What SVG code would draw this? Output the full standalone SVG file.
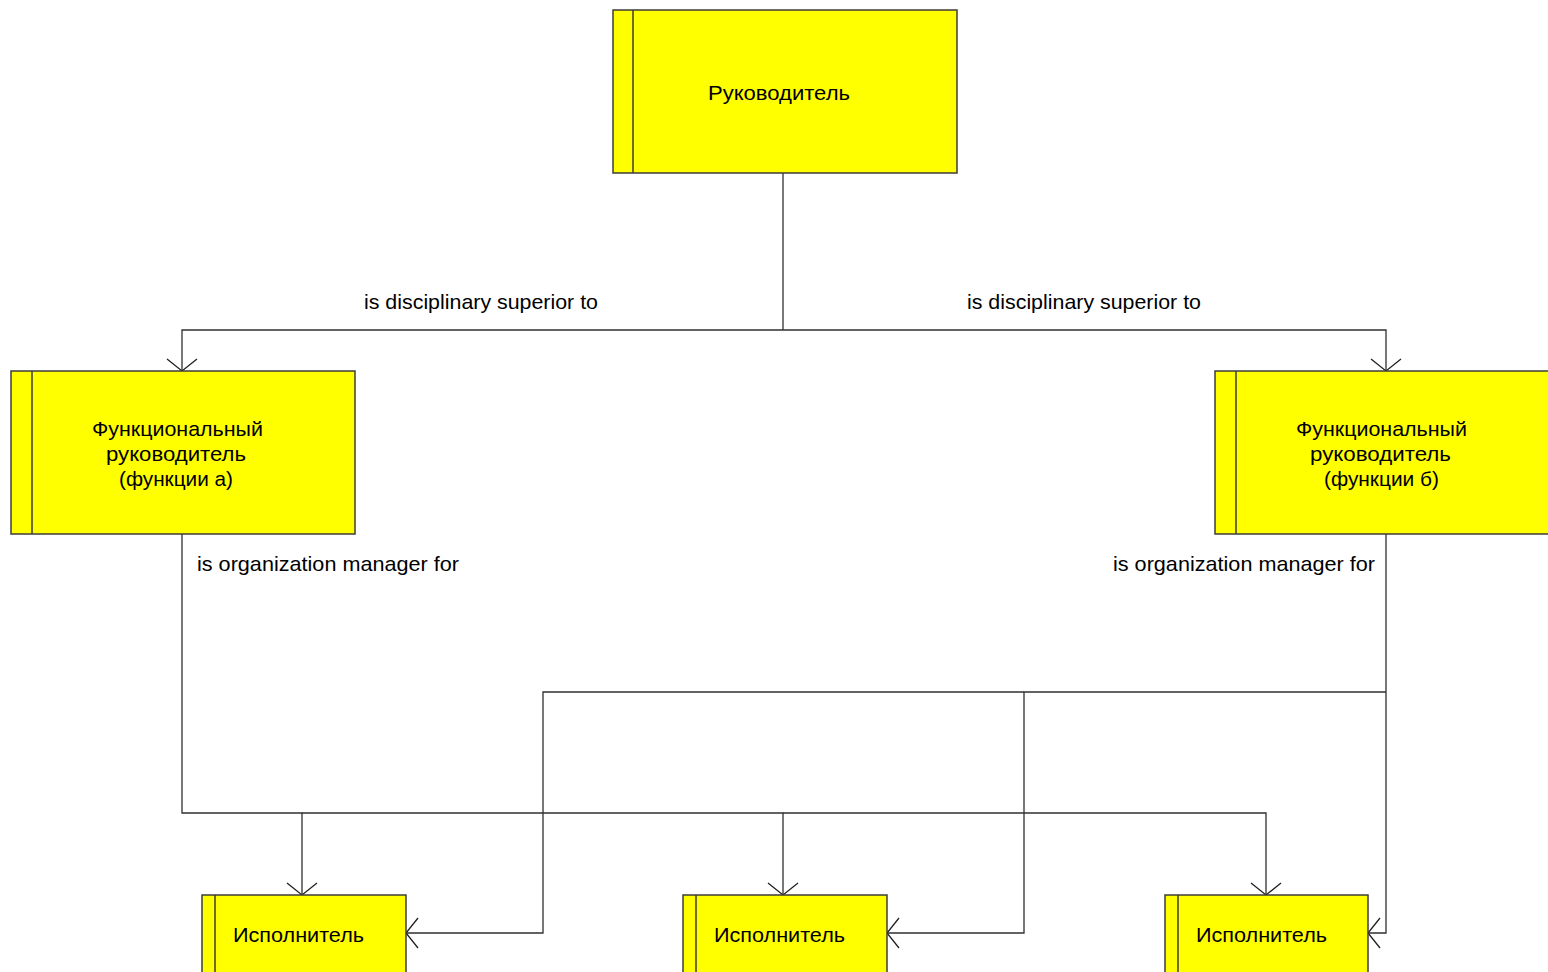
<svg xmlns="http://www.w3.org/2000/svg" width="1548" height="972" viewBox="0 0 1548 972">
<style>
.box{fill:#ffff00;stroke:#3c3c3c;stroke-width:1.5}
.bar{stroke:#3c3c3c;stroke-width:1.5}
.t{font-family:"Liberation Sans",Arial,sans-serif;font-size:21px;fill:#000}
.c{fill:none;stroke:#303030;stroke-width:1.3}
</style>
<defs>
<marker id="arr" markerUnits="userSpaceOnUse" markerWidth="40" markerHeight="40" refX="0" refY="0" viewBox="-20 -20 40 40" orient="auto" overflow="visible">
<path d="M-12,-15 L0,0 L-12,15" fill="none" stroke="#202020" stroke-width="1.3"/>
</marker>
</defs>
<rect width="1548" height="972" fill="#fff"/>
<g id="connectors">
<path class="c" d="M783,173 V330"/>
<path class="c" d="M783,330 H182 V371" marker-end="url(#arr)"/>
<path class="c" d="M783,330 H1386 V371" marker-end="url(#arr)"/>
<path class="c" d="M182,534 V813 H302 V895" marker-end="url(#arr)"/>
<path class="c" d="M302,813 H783 V895" marker-end="url(#arr)"/>
<path class="c" d="M783,813 H1266 V895" marker-end="url(#arr)"/>
<path class="c" d="M1386,534 V933 H1368" marker-end="url(#arr)"/>
<path class="c" d="M1386,692 H1024 V933 H887" marker-end="url(#arr)"/>
<path class="c" d="M1024,692 H543 V933 H406" marker-end="url(#arr)"/>
<text class="t" x="364" y="309" textLength="234" lengthAdjust="spacingAndGlyphs">is disciplinary superior to</text>
<text class="t" x="967" y="309" textLength="234" lengthAdjust="spacingAndGlyphs">is disciplinary superior to</text>
<text class="t" x="197" y="571" textLength="262" lengthAdjust="spacingAndGlyphs">is organization manager for</text>
<text class="t" x="1113" y="571" textLength="262" lengthAdjust="spacingAndGlyphs">is organization manager for</text>
</g>
<g id="node-head">
<rect class="box" x="613" y="10" width="344" height="163"/>
<line class="bar" x1="633" y1="10" x2="633" y2="173"/>
<text class="t" x="708" y="100" textLength="142" lengthAdjust="spacingAndGlyphs">Руководитель</text>
</g>
<g id="node-func-a">
<rect class="box" x="11" y="371" width="344" height="163"/>
<line class="bar" x1="32" y1="371" x2="32" y2="534"/>
<text class="t" x="92" y="436" textLength="171" lengthAdjust="spacingAndGlyphs">Функциональный</text>
<text class="t" x="106" y="461" textLength="140" lengthAdjust="spacingAndGlyphs">руководитель</text>
<text class="t" x="119" y="486" textLength="114" lengthAdjust="spacingAndGlyphs">(функции а)</text>
</g>
<g id="node-func-b">
<rect class="box" x="1215" y="371" width="340" height="163"/>
<line class="bar" x1="1236" y1="371" x2="1236" y2="534"/>
<text class="t" x="1296" y="436" textLength="171" lengthAdjust="spacingAndGlyphs">Функциональный</text>
<text class="t" x="1310" y="461" textLength="141" lengthAdjust="spacingAndGlyphs">руководитель</text>
<text class="t" x="1324" y="486" textLength="115" lengthAdjust="spacingAndGlyphs">(функции б)</text>
</g>
<g id="node-exec-1">
<rect class="box" x="202" y="895" width="204" height="90"/>
<line class="bar" x1="215" y1="895" x2="215" y2="972"/>
<text class="t" x="233" y="942" textLength="131" lengthAdjust="spacingAndGlyphs">Исполнитель</text>
</g>
<g id="node-exec-2">
<rect class="box" x="683" y="895" width="204" height="90"/>
<line class="bar" x1="696" y1="895" x2="696" y2="972"/>
<text class="t" x="714" y="942" textLength="131" lengthAdjust="spacingAndGlyphs">Исполнитель</text>
</g>
<g id="node-exec-3">
<rect class="box" x="1165" y="895" width="203" height="90"/>
<line class="bar" x1="1178" y1="895" x2="1178" y2="972"/>
<text class="t" x="1196" y="942" textLength="131" lengthAdjust="spacingAndGlyphs">Исполнитель</text>
</g>
</svg>
